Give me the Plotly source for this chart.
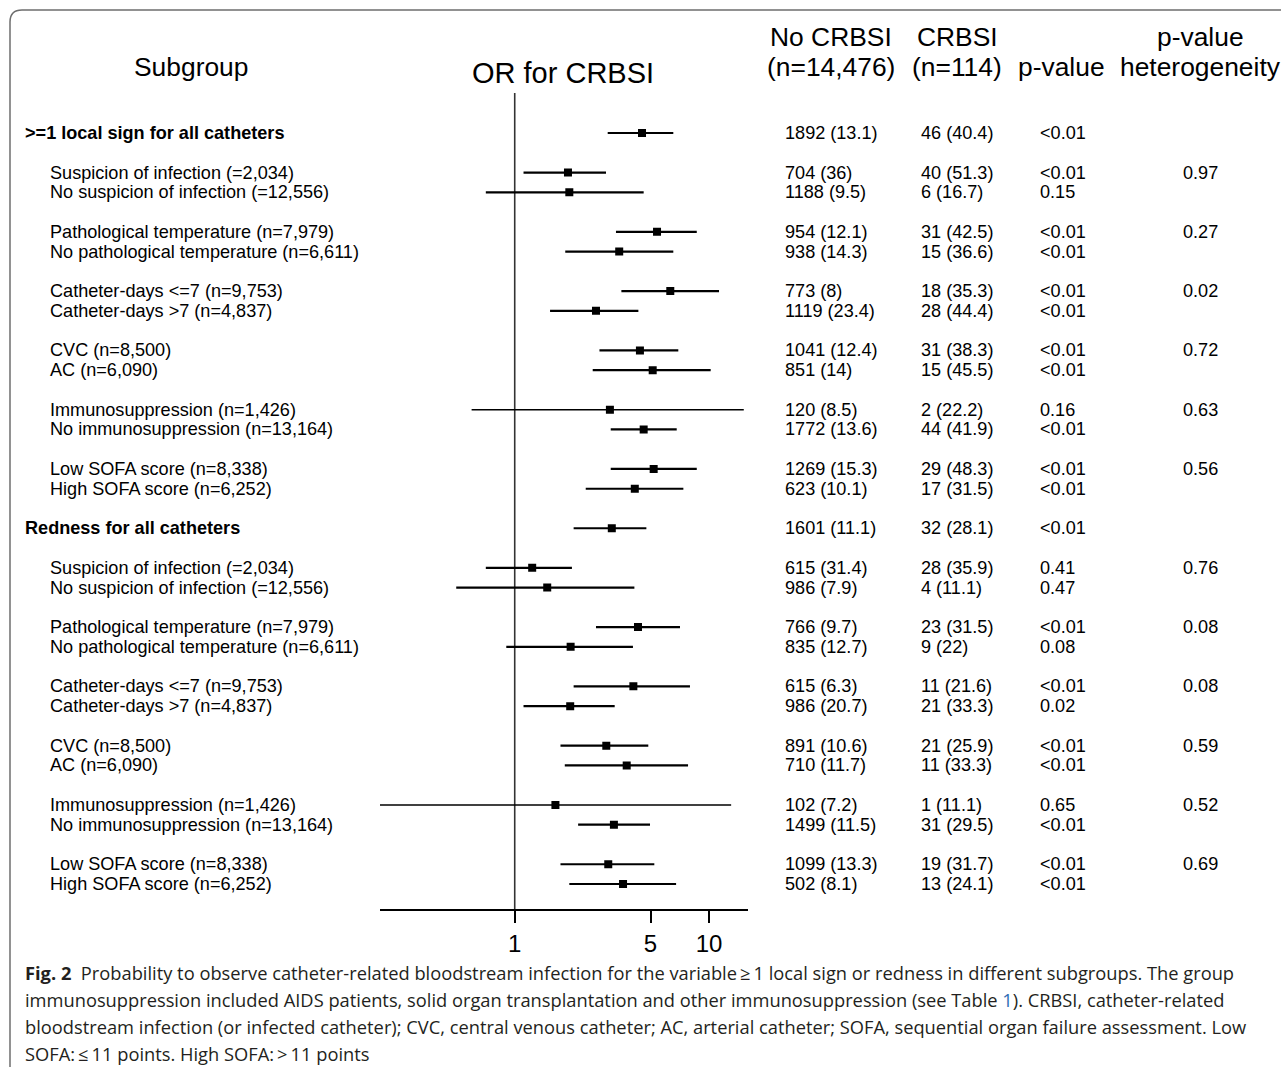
import plotly.graph_objects as go
import math

W, H = 1281, 1067

# ---------------- data ----------------
section_headers = [">=1 local sign for all catheters", "Redness for all catheters"]
labels = [
    ">=1 local sign for all catheters",
    "Suspicion of infection (=2,034)",
    "No suspicion of infection (=12,556)",
    "Pathological temperature (n=7,979)",
    "No pathological temperature (n=6,611)",
    "Catheter-days <=7 (n=9,753)",
    "Catheter-days >7 (n=4,837)",
    "CVC (n=8,500)",
    "AC (n=6,090)",
    "Immunosuppression (n=1,426)",
    "No immunosuppression (n=13,164)",
    "Low SOFA score (n=8,338)",
    "High SOFA score (n=6,252)",
    "Redness for all catheters",
    "Suspicion of infection (=2,034)",
    "No suspicion of infection (=12,556)",
    "Pathological temperature (n=7,979)",
    "No pathological temperature (n=6,611)",
    "Catheter-days <=7 (n=9,753)",
    "Catheter-days >7 (n=4,837)",
    "CVC (n=8,500)",
    "AC (n=6,090)",
    "Immunosuppression (n=1,426)",
    "No immunosuppression (n=13,164)",
    "Low SOFA score (n=8,338)",
    "High SOFA score (n=6,252)",
]
or_est = [4.52, 1.88, 1.91, 5.40, 3.45, 6.32, 2.62, 4.41, 5.13, 3.09, 4.61, 5.19, 4.15,
          3.16, 1.23, 1.47, 4.31, 1.94, 4.08, 1.93, 2.96, 3.77, 1.62, 3.24, 3.03, 3.61]
ci_low = [3.01, 1.11, 0.71, 3.32, 1.82, 3.54, 1.52, 2.73, 2.52, 0.60, 3.12, 3.12, 2.32,
          2.01, 0.71, 0.50, 2.62, 0.905, 2.01, 1.11, 1.72, 1.81, 0.20, 2.12, 1.72, 1.91]
ci_high = [6.55, 2.95, 4.61, 8.65, 6.55, 11.26, 4.33, 6.95, 10.2, 15.1, 6.82, 8.65, 7.38,
           4.76, 1.97, 4.13, 7.09, 4.06, 7.98, 3.27, 4.87, 7.80, 13.0, 4.97, 5.23, 6.77]
no_crbsi = ["1892 (13.1)", "704 (36)", "1188 (9.5)", "954 (12.1)", "938 (14.3)", "773 (8)",
            "1119 (23.4)", "1041 (12.4)", "851 (14)", "120 (8.5)", "1772 (13.6)", "1269 (15.3)",
            "623 (10.1)", "1601 (11.1)", "615 (31.4)", "986 (7.9)", "766 (9.7)", "835 (12.7)",
            "615 (6.3)", "986 (20.7)", "891 (10.6)", "710 (11.7)", "102 (7.2)", "1499 (11.5)",
            "1099 (13.3)", "502 (8.1)"]
crbsi = ["46 (40.4)", "40 (51.3)", "6 (16.7)", "31 (42.5)", "15 (36.6)", "18 (35.3)",
         "28 (44.4)", "31 (38.3)", "15 (45.5)", "2 (22.2)", "44 (41.9)", "29 (48.3)",
         "17 (31.5)", "32 (28.1)", "28 (35.9)", "4 (11.1)", "23 (31.5)", "9 (22)",
         "11 (21.6)", "21 (33.3)", "21 (25.9)", "11 (33.3)", "1 (11.1)", "31 (29.5)",
         "19 (31.7)", "13 (24.1)"]
p_value = ["<0.01", "<0.01", "0.15", "<0.01", "<0.01", "<0.01", "<0.01", "<0.01", "<0.01",
           "0.16", "<0.01", "<0.01", "<0.01", "<0.01", "0.41", "0.47", "<0.01", "0.08",
           "<0.01", "0.02", "<0.01", "<0.01", "0.65", "<0.01", "<0.01", "<0.01"]
p_het = ["", "0.97", "", "0.27", "", "0.02", "", "0.72", "", "0.63", "", "0.56", "",
         "", "0.76", "", "0.08", "", "0.08", "", "0.59", "", "0.52", "", "0.69", ""]
tick_vals = [1, 5, 10]
tick_text = ["1", "5", "10"]

caption_lines = [
    "<b>Fig. 2</b>  Probability to observe catheter-related bloodstream infection for the variable\u2009\u2265\u20091 local sign or redness in different subgroups. The group",
    "immunosuppression included AIDS patients, solid organ transplantation and other immunosuppression (see Table <span style='color:#2f6db5'>1</span>). CRBSI, catheter-related",
    "bloodstream infection (or infected catheter); CVC, central venous catheter; AC, arterial catheter; SOFA, sequential organ failure assessment. Low",
    "SOFA:\u2009\u2264\u200911 points. High SOFA:\u2009>\u200911 points",
]

# ---------------- row positions ----------------
pos = []
k = 0
n_in_section = 0
for lab in labels:
    pos.append(k)
    if lab in section_headers:
        k += 2
        n_in_section = 0
    else:
        k += 1 if n_in_section % 2 == 0 else 2
        n_in_section += 1


def esc(s):
    return s.replace("<", "&lt;").replace(">", "&gt;")


ROW0, ROWH = 133, 19.763
y_top_px, y_bot_px = 93, 909
y_range = [(y_bot_px - ROW0) / ROWH, (y_top_px - ROW0) / ROWH]
x_left_px, x_right_px = 380, 748.3
x_range = [math.log10(0.2026), math.log10(15.93)]

FONT = "Liberation Sans, Arial, sans-serif"
CAP_FONT = "Open Sans, Noto Sans, sans-serif"
ROW_FS = 18.1
HDR_FS = 26.4


def px(xp):
    return xp / W


def py(yp):
    return 1 - yp / H


fig = go.Figure()

# reference line at OR = 1
fig.add_trace(go.Scatter(x=[1, 1], y=y_range, mode="lines",
                         line=dict(color="#333333", width=1.6), hoverinfo="skip"))

# CI lines
wide = [i for i in range(len(labels)) if ci_high[i] / ci_low[i] > 20]
normal = [i for i in range(len(labels)) if i not in wide]
for group, lw in ((normal, 2.2), (wide, 1.5)):
    xs, ys = [], []
    for i in group:
        xs += [ci_low[i], ci_high[i], None]
        ys += [pos[i], pos[i], None]
    fig.add_trace(go.Scatter(x=xs, y=ys, mode="lines",
                             line=dict(color="black", width=lw), hoverinfo="skip"))

# point estimates
fig.add_trace(go.Scatter(x=or_est, y=pos, mode="markers",
                         marker=dict(symbol="square", size=8, color="black"),
                         hoverinfo="skip"))

ann = []
PAD = 2
col_x = {"label_h": 25, "label": 50, "no": 785, "cr": 921, "p": 1040, "het": 1183}
for i, lab in enumerate(labels):
    is_h = lab in section_headers
    ann.append(dict(x=px((col_x["label_h"] if is_h else col_x["label"]) - PAD), y=pos[i],
                    xref="paper", yref="y", xanchor="left", yanchor="middle",
                    text=("<b>%s</b>" % esc(lab)) if is_h else esc(lab), showarrow=False,
                    font=dict(family=FONT, size=ROW_FS, color="black")))
    for key, arr in (("no", no_crbsi), ("cr", crbsi), ("p", p_value), ("het", p_het)):
        if arr[i]:
            ann.append(dict(x=px(col_x[key] - PAD), y=pos[i], xref="paper", yref="y",
                            xanchor="left", yanchor="middle", text=esc(arr[i]),
                            showarrow=False,
                            font=dict(family=FONT, size=ROW_FS, color="black")))

headers = [
    ("Subgroup", 191, 67, HDR_FS),
    ("OR for CRBSI", 563, 73, 29),
    ("No CRBSI", 831, 37, HDR_FS),
    ("(n=14,476)", 831, 67, HDR_FS),
    ("CRBSI", 957, 37, HDR_FS),
    ("(n=114)", 957, 67, HDR_FS),
    ("p-value", 1061, 67, HDR_FS),
    ("p-value", 1200, 37, HDR_FS),
    ("heterogeneity", 1200, 67, HDR_FS),
]
for t, xc, yc, fs in headers:
    ann.append(dict(x=px(xc), y=py(yc), xref="paper", yref="paper", xanchor="center",
                    yanchor="middle", text=t, showarrow=False,
                    font=dict(family=FONT, size=fs, color="black")))

for j, line in enumerate(caption_lines):
    ann.append(dict(x=px(25 - PAD), y=py(972 + 27 * j), xref="paper", yref="paper",
                    xanchor="left", yanchor="middle", text=line, showarrow=False,
                    font=dict(family=CAP_FONT, size=18.3, color="#231f20")))

# frame with rounded top-left corner
r = 12
path = "M %f,%f L %f,%f Q %f,%f %f,%f L %f,%f" % (
    px(10), py(H + 5), px(10), py(10 + r), px(10), py(10), px(10 + r), py(10), px(W + 5), py(10))

fig.update_layout(
    width=W, height=H,
    margin=dict(l=0, r=0, t=0, b=0),
    paper_bgcolor="white", plot_bgcolor="white",
    showlegend=False,
    annotations=ann,
    shapes=[dict(type="path", path=path, xref="paper", yref="paper",
                 line=dict(color="#6e6e6e", width=1.5))],
    xaxis=dict(type="log", range=x_range, domain=[px(x_left_px), px(x_right_px)],
               showline=True, linewidth=2, linecolor="black", mirror=False,
               ticks="outside", ticklen=12, tickwidth=1.5, tickcolor="black",
               tickvals=tick_vals, ticktext=tick_text, ticklabelstandoff=0,
               tickfont=dict(family=FONT, size=24, color="black"),
               showgrid=False, zeroline=False, fixedrange=True),
    yaxis=dict(range=y_range, domain=[py(y_bot_px), py(y_top_px)],
               showticklabels=False, showgrid=False, zeroline=False, showline=False,
               ticks="", fixedrange=True),
)

fig.write_html("out.html", config={"displayModeBar": False},
               post_script="document.body.style.margin='0';document.body.style.overflow='hidden';")
